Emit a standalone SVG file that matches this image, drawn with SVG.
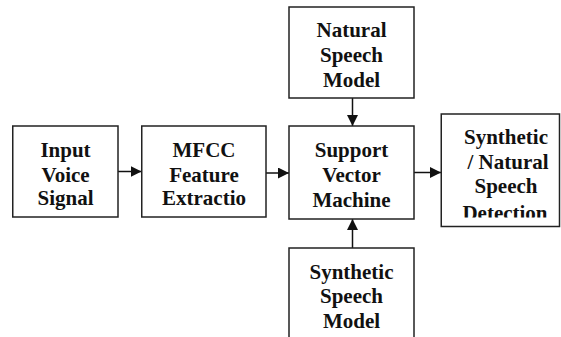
<svg xmlns="http://www.w3.org/2000/svg" width="561" height="337" viewBox="0 0 561 337">
<style>
.box{fill:#fff;stroke:#222;stroke-width:1.5}
.t{font-family:'Liberation Serif','Times New Roman',serif;font-weight:700;font-size:21px;fill:#111;text-anchor:middle}
.c{stroke:#111;stroke-width:1.5;fill:none;marker-end:url(#ah)}
</style>
<defs>
<marker id="ah" viewBox="0 0 10 10" refX="10" refY="5" markerWidth="11" markerHeight="11" markerUnits="userSpaceOnUse" orient="auto">
<path d="M0,0 L10,5 L0,10 z" fill="#111"/>
</marker>
<clipPath id="clipDet"><rect x="441" y="114" width="120" height="103.5"/></clipPath>
</defs>
<rect width="561" height="337" fill="#fff"/>
<g id="connectors">
<line class="c" x1="118" y1="171.5" x2="141.5" y2="171.5"/>
<line class="c" x1="266" y1="173" x2="289" y2="173"/>
<line class="c" x1="352.5" y1="98" x2="352.5" y2="126"/>
<line class="c" x1="352.5" y1="248" x2="352.5" y2="219"/>
<line class="c" x1="414" y1="172.5" x2="441" y2="172.5"/>
</g>
<g id="input">
<rect class="box" x="12.75" y="126" width="105.25" height="91"/>
<text class="t" x="65.5" y="157">Input</text>
<text class="t" x="65.5" y="181.5">Voice</text>
<text class="t" x="65.5" y="205">Signal</text>
</g>
<g id="mfcc">
<rect class="box" x="141.75" y="126" width="124.25" height="91"/>
<text class="t" x="204" y="157">MFCC</text>
<text class="t" x="204" y="181.5">Feature</text>
<text class="t" x="204" y="205">Extractio</text>
</g>
<g id="natural">
<rect class="box" x="289" y="7" width="125" height="91"/>
<text class="t" x="351.5" y="37">Natural</text>
<text class="t" x="351.5" y="61.5">Speech</text>
<text class="t" x="351.5" y="86.5">Model</text>
</g>
<g id="svm">
<rect class="box" x="289" y="126" width="125" height="93"/>
<text class="t" x="351.5" y="157">Support</text>
<text class="t" x="351.5" y="182">Vector</text>
<text class="t" x="351.5" y="206.5">Machine</text>
</g>
<g id="detection">
<rect class="box" x="441.25" y="114" width="118.25" height="112.5"/>
<g clip-path="url(#clipDet)">
<text class="t" x="506" y="144">Synthetic</text>
<text class="t" x="508" y="168.5">/ Natural</text>
<text class="t" x="506" y="193">Speech</text>
<text class="t" x="505" y="219.5">Detection</text>
</g>
</g>
<g id="synthetic">
<rect class="box" x="289" y="248" width="125" height="100"/>
<text class="t" x="351.5" y="278.5">Synthetic</text>
<text class="t" x="351.5" y="303">Speech</text>
<text class="t" x="351.5" y="328">Model</text>
</g>
</svg>
